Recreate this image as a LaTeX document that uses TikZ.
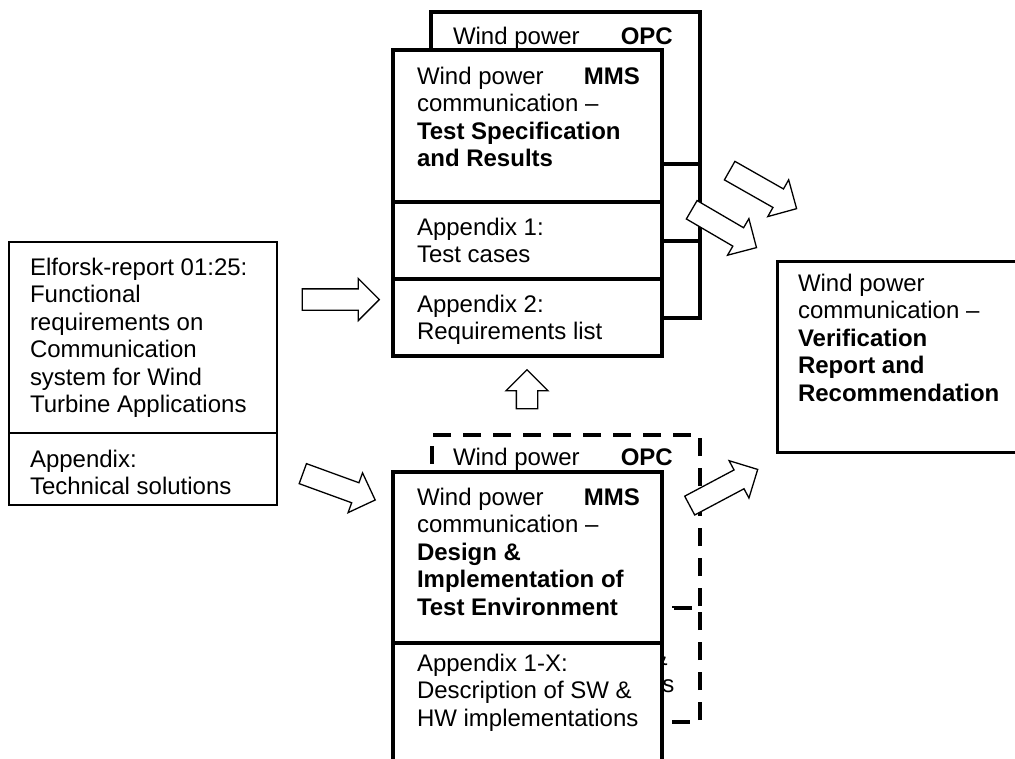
\documentclass[tikz,border=0pt]{standalone}
\usepackage{fontspec}
\setmainfont{Liberation Sans}
\usetikzlibrary{shapes.arrows, positioning}

\tikzset{
  box/.style = {draw, fill=white, line width=3.5pt, anchor=north west,
    outer sep=0pt, inner sep=0pt, minimum width=269pt},
  dashbox/.style = {box, dash pattern=on 18pt off 12pt},
  thinbox/.style = {box, line width=1.3pt},
  txt/.style = {anchor=north west, inner sep=0pt, outer sep=0pt, align=left},
  tag/.style = {anchor=base east, inner sep=0pt,
    font=\fontsize{24}{27.5}\selectfont\bfseries},
  blockarrow/.style = {single arrow, draw, fill=white, line width=1.3pt,
    inner xsep=0pt, inner ysep=10pt, minimum width=0pt,
    single arrow head extend=10.5pt, single arrow tip angle=90,
    minimum height=77pt}
}

\begin{document}
\begin{tikzpicture} [x=1pt, y=-1pt, font=\fontsize{24}{27.5}\selectfont]
\useasboundingbox (0,0) rectangle (1015,758);

\node (req) [thinbox, minimum width=268pt, minimum height=191pt] at (9,242) {};
\node (reqapp) [thinbox, minimum width=268pt, minimum height=72pt] at (9,433) {};
\node (reqtext) [txt, below right=16pt and 21pt of req.north west]
  {Elforsk-report 01:25:\\Functional\\requirements on\\Communication\\system for Wind\\Turbine Applications};
\node (reqapptext) [txt, below right=17pt and 21pt of reqapp.north west]
  {Appendix:\\Technical solutions};

\node (opcmain) [box, minimum height=152pt] at (431,12) {};
\node (opcapp1) [box, minimum height=77pt] at (431,164) {};
\node (opcapp2) [box, minimum height=77pt] at (431,241) {};
\node (opctext) [txt, below right=15pt and 22pt of opcmain.north west] {Wind power};
\node (opctag) [tag] at (673,44) {OPC};

\node (spec) [box, minimum height=152pt] at (393,50) {};
\node (specapp1) [box, minimum height=77pt] at (393,202) {};
\node (specapp2) [box, minimum height=77pt] at (393,279) {};
\node (spectext) [txt, below right=17pt and 24pt of spec.north west]
  {Wind power\\communication --\\\textbf{Test Specification}\\\textbf{and Results}};
\node (spectag) [tag] at (640,84) {MMS};
\node (specapp1text) [txt, below right=16pt and 24pt of specapp1.north west]
  {Appendix 1:\\Test cases};
\node (specapp2text) [txt, below right=16pt and 24pt of specapp2.north west]
  {Appendix 2:\\Requirements list};

\node (envopc) [dashbox, minimum width=268pt, minimum height=173pt] at (432,435) {};
\node (envopcapp) [dashbox, minimum width=268pt, minimum height=114pt] at (432,608) {};
\node (envopctext) [txt, below right=13pt and 21pt of envopc.north west] {Wind power};
\node (envopctag) [tag] at (673,465) {OPC};
\node (envopcapptext) [txt, below right=40pt and 21pt of envopcapp.north west]
  {Description of SW \&\\HW implementations};

\node (env) [box, minimum height=171pt] at (393,472) {};
\node (envapp) [box, minimum height=120pt] at (393,643) {};
\node (envtext) [txt, below right=16pt and 24pt of env.north west]
  {Wind power\\communication --\\\textbf{Design \&}\\\textbf{Implementation of}\\\textbf{Test Environment}};
\node (envtag) [tag] at (640,505) {MMS};
\node (envapptext) [txt, below right=11pt and 24pt of envapp.north west]
  {Appendix 1-X:\\Description of SW \&\\HW implementations};

\node (report) [box, line width=3pt, minimum width=245pt, minimum height=191pt] at (777,261) {};
\node (reporttext) [txt, below right=13pt and 21pt of report.north west]
  {Wind power\\communication --\\\textbf{Verification}\\\textbf{Report and}\\\textbf{Recommendation}};

\node (reqtospec) [blockarrow] at (335.5,299.5) {};
\node (reqtoenv) [blockarrow, rotate=-20] at (334,485) {};
\node (envtospec) [blockarrow, rotate=90, minimum height=39pt] at (527,394.5) {};
\node (spectoreport) [blockarrow, rotate=-29.6] at (758.5,187) {};
\node (specapptoreport) [blockarrow, rotate=-30.3, minimum height=75pt] at (719.5,226) {};
\node (envtoreport) [blockarrow, rotate=28] at (719,490) {};

\end{tikzpicture}
\end{document}
